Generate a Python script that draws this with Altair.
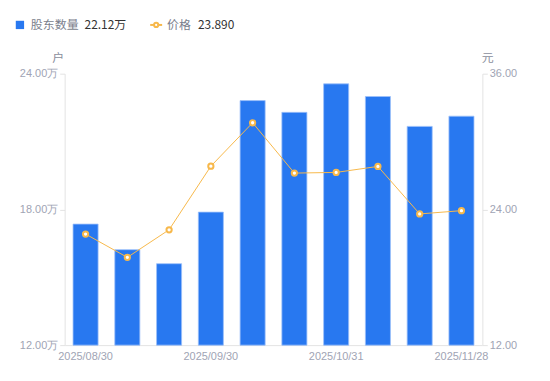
import altair as alt
import pandas as pd

dates = ["2025/08/30", "2025/09/10", "2025/09/19", "2025/09/30", "2025/10/10",
         "2025/10/20", "2025/10/31", "2025/11/10", "2025/11/20", "2025/11/28"]
holders = [17.35, 16.22, 15.60, 17.88, 22.81, 22.29, 23.55, 22.99, 21.67, 22.12]
price = [21.82, 19.76, 22.20, 27.82, 31.66, 27.21, 27.27, 27.80, 23.60, 23.89]
shown_dates = [dates[0], dates[3], dates[6], dates[9]]

df = pd.DataFrame({"date": dates, "holders": holders, "price": price})

BLUE = "#2878F0"
ORANGE = "#F7B84B"
LABEL = "#A0A4B4"
AXIS = "#E3E3E3"
LFONT = "Liberation Sans"

x = alt.X("date:N", sort=dates, title=None,
          scale=alt.Scale(paddingInner=0.4, paddingOuter=0.2),
          axis=alt.Axis(values=shown_dates, labelAngle=0, ticks=False, labelPadding=5,
                        labelColor=LABEL, labelFontSize=11, domainColor=AXIS, labelFont=LFONT))

bars = alt.Chart(df).mark_bar(color=BLUE, stroke="#9CC0FA", strokeWidth=0.8).encode(
    x=x,
    y=alt.Y("holders:Q", scale=alt.Scale(domain=[12, 24], zero=False, nice=False),
            axis=alt.Axis(values=[12, 18, 24], labelExpr="format(datum.value, '.2f') + '万'",
                          title="户", titleAngle=0, titleX=-7, titleY=-16, titleAlign="center",
                          titleBaseline="middle",
                          titleColor="#8A8E9C", titleFontWeight="normal", titleFontSize=12,
                          labelColor=LABEL, labelFontSize=11, tickColor=AXIS, tickSize=5,
                          labelPadding=2, domainColor=AXIS, grid=False, labelFont=LFONT)),
    y2=alt.Y2Datum(12),
)

line = alt.Chart(df).mark_line(
    color=ORANGE, strokeWidth=1,
    point=alt.OverlayMarkDef(shape="circle", filled=True, fill="white", stroke=ORANGE,
                             strokeWidth=2, size=28, opacity=1),
).encode(
    x=x,
    y=alt.Y("price:Q", scale=alt.Scale(domain=[12, 36], zero=False, nice=False),
            axis=alt.Axis(values=[12, 24, 36], format=".2f", orient="right",
                          title="元", titleAngle=0, titleX=5, titleY=-16, titleAlign="center",
                          titleBaseline="middle",
                          titleColor="#8A8E9C", titleFontWeight="normal", titleFontSize=12,
                          labelColor=LABEL, labelFontSize=11, tickColor=AXIS, tickSize=5,
                          labelPadding=2, domainColor=AXIS, grid=False, labelFont=LFONT)),
)

main = alt.layer(bars, line).resolve_scale(y="independent")

# legend (decoration)
leg_df = pd.DataFrame({"k": [0]})
leg_sq = alt.Chart(leg_df).mark_square(color=BLUE, size=70, opacity=1, cornerRadius=2).encode(
    x=alt.value(-45), y=alt.value(-49))
leg_t1 = alt.Chart(leg_df).mark_text(text="股东数量", align="left", baseline="middle",
                                      fontSize=12, color="#7A7E8C", font="Noto Sans CJK SC").encode(
    x=alt.value(-34), y=alt.value(-49))
leg_v1 = alt.Chart(leg_df).mark_text(text="22.12万", align="left", baseline="middle",
                                      fontSize=12, color="#333333", font="Noto Sans CJK SC").encode(
    x=alt.value(20), y=alt.value(-49))
leg_ln = alt.Chart(leg_df).mark_rule(color=ORANGE, strokeWidth=2).encode(
    x=alt.value(86), x2=alt.value(98), y=alt.value(-49))
leg_pt = alt.Chart(leg_df).mark_point(shape="circle", filled=True, fill="white", stroke=ORANGE,
                                      strokeWidth=2, size=18, opacity=1).encode(
    x=alt.value(92), y=alt.value(-49))
leg_t2 = alt.Chart(leg_df).mark_text(text="价格", align="left", baseline="middle",
                                      fontSize=12, color="#7A7E8C", font="Noto Sans CJK SC").encode(
    x=alt.value(103), y=alt.value(-49))
leg_v2 = alt.Chart(leg_df).mark_text(text="23.890", align="left", baseline="middle",
                                      fontSize=12, color="#333333", font="Noto Sans CJK SC").encode(
    x=alt.value(134), y=alt.value(-49))

chart = alt.layer(
    main, leg_sq, leg_t1, leg_v1, leg_ln, leg_pt, leg_t2, leg_v2
).properties(
    width=420, height=273,
    autosize=alt.AutoSizeParams(type="none"),
    padding={"left": 57, "top": 65, "right": 60, "bottom": 30},
).configure(font="Noto Sans CJK SC").configure_view(strokeWidth=0, stroke="transparent")

chart.save("out.html", embed_options={"renderer": "svg", "actions": False})
